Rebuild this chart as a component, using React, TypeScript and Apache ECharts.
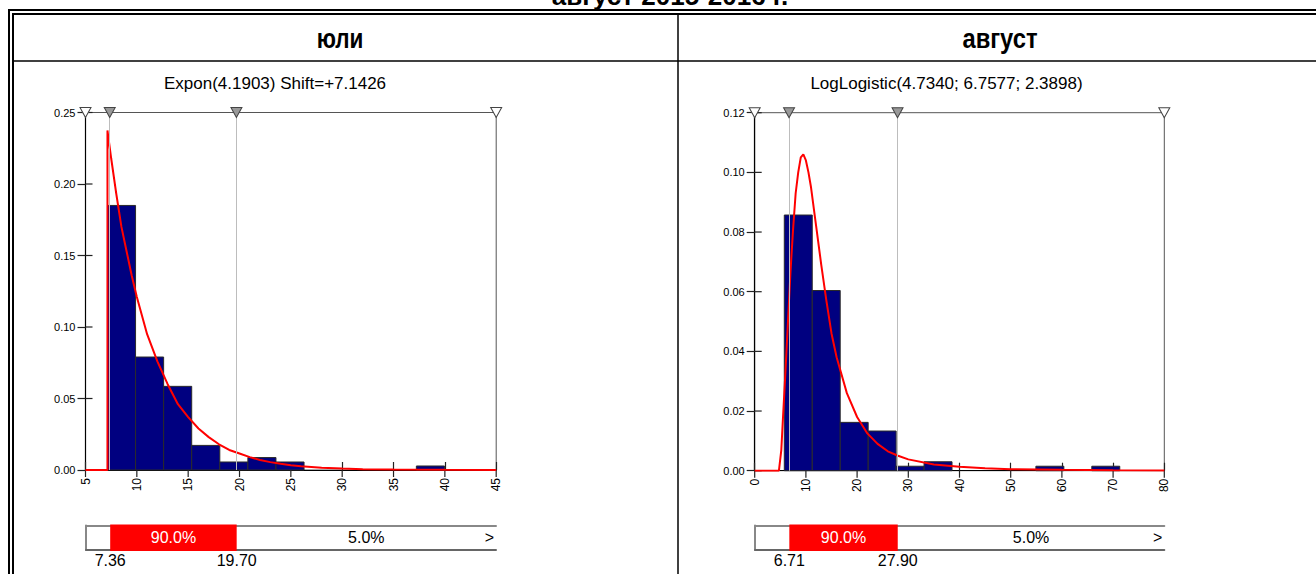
import React, { useEffect, useRef } from "react";
import * as echarts from "echarts";

const FONT = '"Liberation Sans", Arial, sans-serif';

// ---------- July (юли) ----------
const julyAxis = { min: 5, max: 45, interval: 5 };
const julyYAxis = { min: 0, max: 0.25, interval: 0.05 };
const julyBinEdges = [7.14, 9.875, 12.61, 15.345, 18.08, 20.815, 23.55, 26.285, 29.02, 31.755, 34.49, 37.225, 39.96];
const julyDensity = [0.185, 0.079, 0.0585, 0.0172, 0.0056, 0.0087, 0.0056, 0, 0, 0, 0, 0.0028];
const julyFitX = [5, 7.14, 7.14, 7.5, 8, 8.5, 9, 9.5, 10, 11, 12, 13, 14, 15, 16, 17, 18, 19, 20, 21, 22, 23, 24, 25, 26, 28, 30, 32, 35, 40, 45];
const julyFitY = [0, 0, 0.2375, 0.218, 0.193, 0.17, 0.153, 0.136, 0.121, 0.095, 0.076, 0.06, 0.046, 0.037, 0.029, 0.023, 0.018, 0.014, 0.0115, 0.009, 0.007, 0.0055, 0.0043, 0.0034, 0.0026, 0.0016, 0.001, 0.0006, 0.0003, 0.0001, 0.00002];
const julyInterval = [7.36, 19.7];
const julyTitle = "Expon(4.1903) Shift=+7.1426";

// ---------- August (август) ----------
const augAxis = { min: 0, max: 80, interval: 10 };
const augYAxis = { min: 0, max: 0.12, interval: 0.02 };
const augBinEdges = [5.78, 11.24, 16.7, 22.16, 27.62, 33.08, 38.54, 44.0, 49.46, 54.92, 60.38, 65.84, 71.3];
const augDensity = [0.0857, 0.0604, 0.0162, 0.0133, 0.0015, 0.003, 0, 0, 0, 0.0015, 0, 0.0015];
const augFitX = [0, 4.73, 5.2, 5.5, 6, 6.5, 7, 7.5, 8, 8.5, 9, 9.5, 10, 10.5, 11, 12, 13, 14, 15, 16, 18, 20, 22, 24, 26, 28, 30, 35, 40, 45, 50, 60, 70, 80];
const augFitY = [0, 0, 0.007, 0.017, 0.033, 0.05, 0.067, 0.081, 0.093, 0.1, 0.105, 0.106, 0.104, 0.1, 0.095, 0.082, 0.069, 0.057, 0.046, 0.038, 0.026, 0.018, 0.0125, 0.009, 0.0065, 0.005, 0.0038, 0.0021, 0.0013, 0.0008, 0.0005, 0.0003, 0.00015, 0.0001];
const augInterval = [6.71, 27.9];
const augTitle = "LogLogistic(4.7340; 6.7577; 2.3898)";

const bandLabels = ["90.0%", "5.0%"];
const headerLabels = ["юли", "август"];
const pageTitle = "август 2015-2016 г.";

const NAVY = "#000080";
const RED = "#ff0000";

function tickValues(a: { min: number; max: number; interval: number }) {
  const out: number[] = [];
  const n = Math.round((a.max - a.min) / a.interval);
  for (let i = 0; i <= n; i++) out.push(+(a.min + i * a.interval).toFixed(6));
  return out;
}

function panel(
  idx: number,
  grid: { left: number; top: number; width: number; height: number },
  band: { left: number; top: number; width: number; height: number },
  xa: { min: number; max: number; interval: number },
  ya: { min: number; max: number; interval: number },
  edges: number[],
  dens: number[],
  fitX: number[],
  fitY: number[],
  interval: number[]
) {
  const g0 = idx * 2; // main grid
  const g1 = idx * 2 + 1; // band grid
  const xBase = idx * 3;
  const yBase = idx * 2;
  const grids = [
    { ...grid, show: true, borderColor: "#555", borderWidth: 1, backgroundColor: "transparent", containLabel: false },
    { ...band, show: false, containLabel: false },
  ];
  const xAxes = [
    {
      gridIndex: g0, type: "value", position: "bottom", min: xa.min, max: xa.max, interval: xa.interval,
      axisLine: { show: true, onZero: false, lineStyle: { color: "#000", width: 1 } },
      axisTick: { show: true, inside: true, length: 8, lineStyle: { color: "#222", width: 1.2 } },
      axisLabel: { show: true, rotate: 90, margin: 8, fontSize: 12, color: "#000", fontFamily: FONT, showMinLabel: true, showMaxLabel: true },
      splitLine: { show: false },
    },
    {
      gridIndex: g1, type: "value", position: "bottom", min: xa.min, max: xa.max,
      axisLine: { show: true, onZero: false, lineStyle: { color: "#666", width: 2 } },
      axisTick: { show: false }, axisLabel: { show: false }, splitLine: { show: false },
    },
    {
      gridIndex: g1, type: "value", position: "top", min: xa.min, max: xa.max,
      axisLine: { show: true, onZero: false, lineStyle: { color: "#888", width: 2 } },
      axisTick: { show: false }, axisLabel: { show: false }, splitLine: { show: false },
    },
  ];
  const yAxes = [
    {
      gridIndex: g0, type: "value", position: "left", min: ya.min, max: ya.max, interval: ya.interval,
      axisLine: { show: true, onZero: false, lineStyle: { color: "#000", width: 1.2 } },
      axisTick: { show: true, inside: false, length: 8, lineStyle: { color: "#222", width: 1.2 } },
      axisLabel: { show: true, margin: 10, fontSize: 11, color: "#000", fontFamily: FONT, formatter: (v: number) => v.toFixed(2) },
      splitLine: { show: false },
    },
    {
      gridIndex: g1, type: "value", position: "left", min: 0, max: 1,
      axisLine: { show: true, onZero: false, lineStyle: { color: "#888", width: 2 } },
      axisTick: { show: false }, axisLabel: { show: false }, splitLine: { show: false },
    },
  ];

  const histData = dens.map((h, i) => [edges[i], edges[i + 1], h]);
  const bandData = [
    [interval[0], interval[1], 0.5, 1],
    [interval[1], xa.max, 0.5, 0],
  ];
  // complementary halves of the crossing axis ticks (x: below the axis, y: inside the plot)
  const tickData = [
    ...tickValues(xa).map((v) => [v, ya.min, 0]),
    ...tickValues(ya).map((v) => [xa.min, v, 1]),
  ];

  const series: any[] = [
    {
      type: "custom",
      xAxisIndex: xBase, yAxisIndex: yBase,
      z: 2,
      encode: { x: [0, 1], y: 2 },
      data: histData,
      renderItem: (_p: any, api: any) => {
        const x0 = api.value(0), x1 = api.value(1), h = api.value(2);
        if (!(h > 0)) return null;
        const a = api.coord([x0, h]);
        const b = api.coord([x1, 0]);
        return {
          type: "rect",
          shape: { x: a[0], y: a[1], width: b[0] - a[0], height: b[1] - a[1] },
          style: { fill: NAVY, stroke: "#2a2a2a", lineWidth: 1 },
        };
      },
    },
    {
      type: "custom",
      xAxisIndex: xBase, yAxisIndex: yBase,
      z: 1, silent: true, clip: false,
      encode: { x: 0, y: 1 },
      data: tickData,
      renderItem: (_p: any, api: any) => {
        const pt = api.coord([api.value(0), api.value(1)]);
        const isY = api.value(2) === 1;
        const shape = isY
          ? { x1: pt[0], y1: pt[1], x2: pt[0] + 7, y2: pt[1] }
          : { x1: pt[0], y1: pt[1], x2: pt[0], y2: pt[1] + 7 };
        return { type: "line", shape, style: { stroke: "#222", lineWidth: 1.2 } };
      },
    },
    {
      type: "line",
      xAxisIndex: xBase, yAxisIndex: yBase,
      z: 4,
      data: fitX.map((x, i) => [x, fitY[i]]),
      showSymbol: false, symbol: "none",
      lineStyle: { color: RED, width: 2 },
      markLine: {
        silent: true, symbol: "none", label: { show: false },
        lineStyle: { color: "#bdbdbd", width: 1, type: "solid" },
        data: interval.map((v) => [{ coord: [v, ya.min] }, { coord: [v, ya.max] }]),
      },
      markPoint: {
        silent: true, label: { show: false },
        data: [
          { v: xa.min, c: "#fff" },
          { v: interval[0], c: "#999" },
          { v: interval[1], c: "#999" },
          { v: xa.max, c: "#fff" },
        ].map((m) => ({
          coord: [m.v, ya.max], symbol: "triangle", symbolRotate: 180, symbolSize: [11, 10],
          itemStyle: { color: m.c, borderColor: "#444", borderWidth: 1 },
        })),
      },
    },
    {
      type: "custom",
      xAxisIndex: xBase + 1, yAxisIndex: yBase + 1,
      z: 3,
      encode: { x: [0, 1], y: 2 },
      data: bandData,
      renderItem: (p: any, api: any) => {
        const x0 = api.value(0), x1 = api.value(1), kind = api.value(3);
        const a = api.coord([x0, 1]);
        const b = api.coord([x1, 0]);
        const w = b[0] - a[0], h = b[1] - a[1];
        const children: any[] = [];
        if (kind === 1) {
          children.push({ type: "rect", shape: { x: a[0], y: a[1] - 1, width: w, height: h + 2 }, style: { fill: RED } });
          [x0, x1].forEach((v, k) => {
            children.push({
              type: "text", x: k === 0 ? a[0] : b[0], y: b[1] + 10,
              style: { text: v.toFixed(2), fill: "#000", font: `16px ${FONT}`, align: "center", verticalAlign: "middle" },
            });
          });
        } else {
          children.push({
            type: "text", x: b[0] - 2, y: a[1] + h / 2,
            style: { text: ">", fill: "#000", font: `16px ${FONT}`, align: "right", verticalAlign: "middle" },
          });
        }
        children.push({
          type: "text", x: a[0] + w / 2, y: a[1] + h / 2,
          style: { text: bandLabels[p.dataIndex], fill: kind === 1 ? "#fff" : "#000", font: `16px ${FONT}`, align: "center", verticalAlign: "middle" },
        });
        return { type: "group", children };
      },
    },
  ];
  return { grids, xAxes, yAxes, series };
}

export default function App() {
  const ref = useRef<HTMLDivElement>(null);
  useEffect(() => {
    if (!ref.current) return;
    const chart = echarts.init(ref.current, undefined, { renderer: "svg" });
    const p1 = panel(0, { left: 85.5, top: 112.5, width: 410.7, height: 357.5 }, { left: 86, top: 525.5, width: 410, height: 24.5 },
      julyAxis, julyYAxis, julyBinEdges, julyDensity, julyFitX, julyFitY, julyInterval);
    const p2 = panel(1, { left: 754.7, top: 112.7, width: 409.6, height: 358 }, { left: 755, top: 525.5, width: 409.3, height: 24.5 },
      augAxis, augYAxis, augBinEdges, augDensity, augFitX, augFitY, augInterval);

    const line = (x1: number, y1: number, x2: number, y2: number, w: number) => ({
      type: "line", shape: { x1, y1, x2, y2 }, style: { stroke: "#000", lineWidth: w }, silent: true,
    });

    const graphic: any[] = [
      { type: "text", x: 670, y: -4, style: { text: pageTitle, font: `bold 26px ${FONT}`, fill: "#000", align: "center", verticalAlign: "middle" } },
      line(8, 10, 1316, 10, 2),
      line(12, 14, 1316, 14, 2),
      line(9, 9, 9, 574, 2),
      line(13, 13, 13, 574, 2),
      line(13, 61, 1316, 61, 1.5),
      line(678, 14, 678, 574, 1.5),
      { type: "text", x: 340, y: 38, scaleX: 0.9, scaleY: 1.12, style: { text: headerLabels[0], font: `bold 25px ${FONT}`, fill: "#000", align: "center", verticalAlign: "middle" } },
      { type: "text", x: 1000, y: 38, scaleX: 0.95, scaleY: 1.12, style: { text: headerLabels[1], font: `bold 25px ${FONT}`, fill: "#000", align: "center", verticalAlign: "middle" } },
      { type: "text", x: 275, y: 83, style: { text: julyTitle, font: `17px ${FONT}`, fill: "#000", align: "center", verticalAlign: "middle" } },
      { type: "text", x: 946.5, y: 83, style: { text: augTitle, font: `17px ${FONT}`, fill: "#000", align: "center", verticalAlign: "middle" } },
    ];

    chart.setOption({
      animation: false,
      backgroundColor: "#fff",
      textStyle: { fontFamily: FONT },
      grid: [...p1.grids, ...p2.grids],
      xAxis: [...p1.xAxes, ...p2.xAxes],
      yAxis: [...p1.yAxes, ...p2.yAxes],
      series: [...p1.series, ...p2.series],
      graphic,
    });
    return () => chart.dispose();
  }, []);
  return <div ref={ref} style={{ position: "absolute", left: 0, top: 0, width: 1316, height: 574 }} />;
}
